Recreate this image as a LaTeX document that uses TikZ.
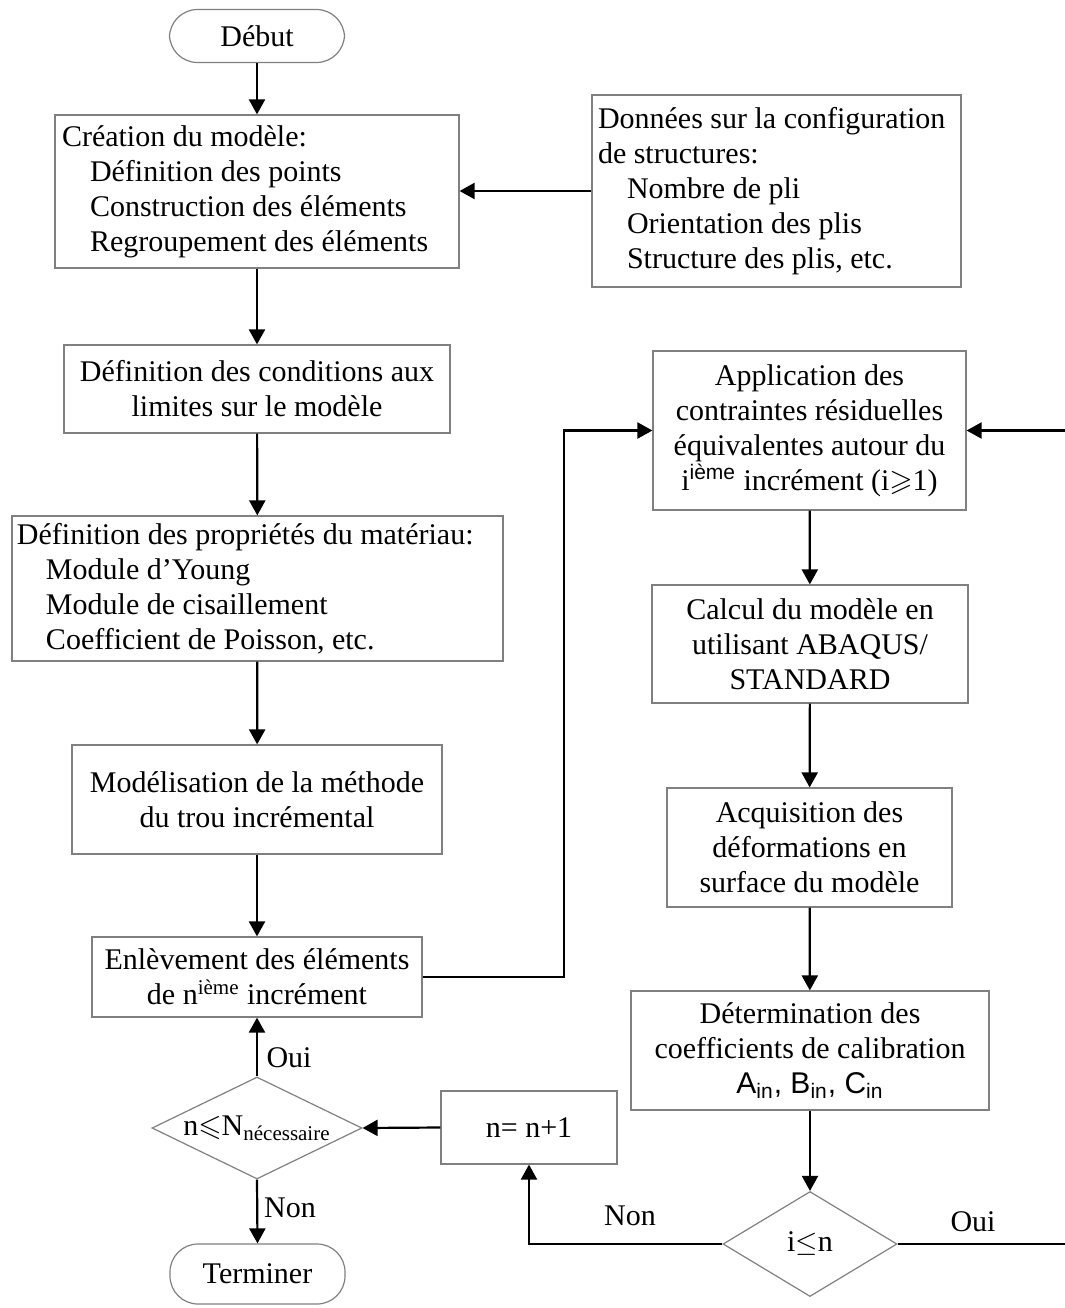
\documentclass[tikz,border=0pt]{standalone}
\usepackage{amsmath, amssymb}
\usepackage{fontspec}
\setmainfont{Liberation Serif}
\setsansfont{Liberation Sans}
\usepackage{tikz}
\usepackage{xcolor}
\usetikzlibrary{arrows.meta, positioning, calc, shapes.geometric}
\definecolor{boxline}{HTML}{808080}
\definecolor{flowline}{HTML}{000000}

\begin{document}
\begin{tikzpicture}[x=0.5pt, y=-0.5pt,
            font=\fontsize{15pt}{17.5pt}\selectfont,
            bx/.style={rectangle, draw=boxline, line width=0.6pt, inner sep=2pt, align=center},
            lbx/.style={rectangle, draw=boxline, line width=0.6pt, inner ysep=2pt, align=flush left},
            term/.style={rectangle, rounded corners=14pt, draw=boxline, line width=0.6pt, minimum width=87.5pt},
            dec/.style={diamond, draw=boxline, line width=0.6pt, inner sep=0pt, aspect=2},
            fl/.style={flowline, line width=1.1pt, -{Triangle[length=7.5pt, width=8pt]}},
            lb/.style={inner sep=0pt}]
            \useasboundingbox (0,0) rectangle (1065,1308);
            \node[term, minimum height=26.5pt] (debut) at (257,36) {Début};
            \node[lbx, inner xsep=3.5pt, text width=195pt, minimum height=76.5pt] (creation) at (257,191.5)
                {Création du modèle:\\ \hspace*{14pt}Définition des points\\ \hspace*{14pt}Construction des éléments\\ \hspace*{14pt}Regroupement des éléments};
            \node[lbx, inner xsep=3pt, text width=178.5pt, minimum height=96pt] (donnees) at (776.5,191)
                {Données sur la configuration\\ de structures:\\ \hspace*{14.5pt}Nombre de pli\\ \hspace*{14.5pt}Orientation des plis\\ \hspace*{14.5pt}Structure des plis, etc.};
            \node[bx, minimum width=193pt, minimum height=44pt] (cond) at (257,389)
                {Définition des conditions aux\\ limites sur le modèle};
            \node[lbx, inner xsep=2.5pt, text width=240.5pt, minimum height=72.5pt] (props) at (257.5,588.5)
                {Définition des propriétés du matériau:\\ \hspace*{14.5pt}Module d’Young\\ \hspace*{14.5pt}Module de cisaillement\\ \hspace*{14.5pt}Coefficient de Poisson, etc.};
            \node[bx, minimum width=185pt, minimum height=54.5pt] (model) at (257,799.5)
                {Modélisation de la méthode\\ du trou incrémental};
            \node[bx, minimum width=165pt, minimum height=40pt] (enlev) at (257,977)
                {Enlèvement des éléments\\ de n\textsuperscript{ième} incrément};
            \node[dec, minimum width=105pt, minimum height=51pt] (testn) at (257,1128)
                {n$\leqslant$N\textsubscript{nécessaire}};
            \node[term, minimum height=30pt] (fin) at (257.5,1274) {Terminer};
            \node[bx, minimum width=88pt, minimum height=36.5pt] (incr) at (529,1127.5) {n= n+1};
            \node[bx, minimum width=156.5pt, minimum height=79.5pt] (app) at (809.5,430.5)
                {Application des\\ contraintes résiduelles\\ équivalentes autour du\\ i\textsuperscript{\sffamily ième} incrément (i$\geqslant$1)};
            \node[bx, minimum width=158pt, minimum height=59pt] (calc) at (810,644)
                {Calcul du modèle en\\ utilisant ABAQUS/\\ STANDARD};
            \node[bx, minimum width=142.5pt, minimum height=59.5pt] (acq) at (809.5,847.5)
                {Acquisition des\\ déformations en\\ surface du modèle};
            \node[bx, minimum width=179pt, minimum height=59.5pt] (determ) at (810,1050.5)
                {Détermination des\\ coefficients de calibration\\ {\sffamily A\textsubscript{in}, B\textsubscript{in}, C\textsubscript{in}}};
            \node[dec, minimum width=87pt, minimum height=52.5pt] (testi) at (810,1244) {i$\leq$n};
            \node[lb] (ouiA) at (289,1058) {Oui};
            \node[lb] (nonA) at (290,1208) {Non};
            \node[lb] (nonB) at (630,1216) {Non};
            \node[lb] (ouiB) at (973,1222) {Oui};
            \coordinate (jA) at (564,977);
            \coordinate (jB) at (1085,1244);
            \draw[fl] (debut) -- (creation);
            \draw[fl] (donnees.west) -- (donnees.west -| creation.east);
            \draw[fl] (creation) -- (cond);
            \draw[fl] (cond) -- (props);
            \draw[fl] (props) -- (model);
            \draw[fl] (model) -- (enlev);
            \draw[fl] (enlev.east) -- (jA) |- (app.west);
            \draw[fl] (app) -- (calc);
            \draw[fl] (calc) -- (acq);
            \draw[fl] (acq) -- (determ);
            \draw[fl] (determ) -- (testi);
            \draw[fl] (testi.west) -| (incr.south);
            \draw[fl] (incr.west) -- (testn.east);
            \draw[fl] (testn.north) -- (enlev.south);
            \draw[fl] (testn.south) -- (fin.north);
            \draw[fl] (testi.east) -- (jB) |- (app.east);
        \end{tikzpicture}
\end{document}
